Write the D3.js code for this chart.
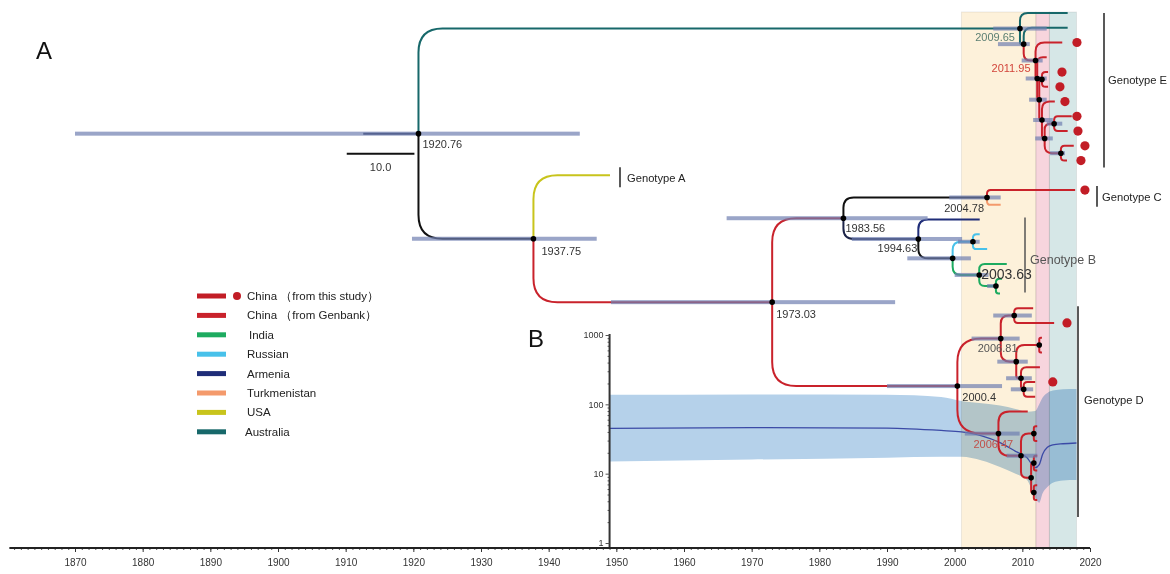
<!DOCTYPE html>
<html>
<head>
<meta charset="utf-8">
<script src="https://cdn.jsdelivr.net/npm/d3@7"></script>
<style>
  body { margin: 0; background: #fff; }
  svg { font-family: "Liberation Sans", Arial, sans-serif; }
</style>
</head>
<body>
<svg id="chart" width="1170" height="574"></svg>
<script>
"use strict";

// ---- data ----
var axisYears = [1870, 1880, 1890, 1900, 1910, 1920, 1930, 1940, 1950, 1960, 1970, 1980, 1990, 2000, 2010, 2020];
var axisFrom = 1860.3, axisTo = 2020;

// shaded periods behind the tree
var periodStart = [2001, 2012, 2014];
var periodEnd = [2012, 2014, 2018];
var periodFill = ['#fdf1da', '#f7d5dd', '#d6e7e7'];

// internal nodes: [id, parent, age, hpd low, hpd high, branch colour]
var internalNodes = [
    ['root', null, 1920.76, 1870.0, 1944.6, 'dark'],
    ['E0', 'root', 2009.65, 2005.7, 2013.6, 'aus'],
    ['E1', 'E0', 2010.2, 2006.4, 2011.1, 'aus'],
    ['E2', 'E1', 2011.95, 2009.9, 2013.0, 'cn'],
    ['E3', 'E2', 2012.2, 2010.5, 2013.6, 'cn'],
    ['E4', 'E3', 2012.5, 2011.0, 2013.6, 'cn'],
    ['E4a', 'E4', 2012.9, null, null, 'cn'],
    ['E5', 'E4', 2012.9, 2011.6, 2014.5, 'cn'],
    ['E7', 'E5', 2013.3, 2011.9, 2014.5, 'cn'],
    ['E6', 'E7', 2014.7, 2013.6, 2015.9, 'cn'],
    ['E8', 'E7', 2015.7, 2014.1, 2016.3, 'cn'],
    ['N37', 'root', 1937.75, 1919.8, 1947.1, 'black'],
    ['N73', 'N37', 1973.03, 1949.2, 1991.2, 'cn'],
    ['N83', 'N73', 1983.56, 1966.3, 1996.0, 'cn'],
    ['C0', 'N83', 2004.78, 1999.2, 2006.8, 'black'],
    ['N94', 'N83', 1994.63, 1984.8, 2001.1, 'dark'],
    ['B1', 'N94', 1999.7, 1993.0, 2002.4, 'black'],
    ['B2', 'B1', 2002.7, 2000.5, 2003.7, 'ru'],
    ['B3', 'B1', 2003.63, 2000.0, 2005.0, 'in'],
    ['B4', 'B3', 2006.1, 2004.8, 2006.4, 'in'],
    ['D0', 'N73', 2000.4, 1990.0, 2007.0, 'cn'],
    ['D81', 'D0', 2006.81, 2002.5, 2009.6, 'cn'],
    ['D1', 'D81', 2008.8, 2005.7, 2011.4, 'cn'],
    ['D2', 'D81', 2009.1, 2006.3, 2010.8, 'cn'],
    ['D3', 'D2', 2012.5, null, null, 'cn'],
    ['D4', 'D2', 2009.8, 2007.6, 2011.4, 'cn'],
    ['D5', 'D4', 2010.2, 2008.3, 2011.6, 'cn'],
    ['D47', 'D0', 2006.47, 2001.5, 2009.6, 'cn'],
    ['D6', 'D47', 2009.8, 2007.7, 2012.2, 'cn'],
    ['D7', 'D6', 2011.7, null, null, 'cn'],
    ['D8', 'D6', 2011.3, null, null, 'cn'],
    ['D9', 'D8', 2011.7, null, null, 'cn'],
    ['D10', 'D8', 2011.7, null, null, 'cn']
];
var rootStart = 1912.6;

// tips, top to bottom: [parent, sampling year, colour, year of "this study" dot]
var tips = [
    ['E0', 2016.7, 'aus', null],
    ['E1', 2016.7, 'aus', null],
    ['E2', 2015.9, 'cn', 2018.07],
    ['E3', 2013.6, 'cn', null],
    ['E4a', 2013.8, 'cn', 2015.86],
    ['E4a', 2013.8, 'cn', 2015.56],
    ['E5', 2014.8, 'cn', 2016.3],
    ['E6', 2017.3, 'cn', 2018.07],
    ['E6', 2016.7, 'cn', 2018.22],
    ['E8', 2017.6, 'cn', 2019.25],
    ['E8', 2016.6, 'cn', 2018.66],
    ['N37', 1949.06, 'usa', null],
    ['C0', 2017.8, 'cn', 2019.25],
    ['C0', 2006.8, 'tk', null],
    ['N94', 2003.7, 'arm', null],
    ['B2', 2003.7, 'ru', null],
    ['B2', 2004.8, 'ru', null],
    ['B3', 2007.7, 'in', null],
    ['B4', 2007.0, 'in', null],
    ['B4', 2006.7, 'in', null],
    ['D1', 2011.6, 'cn', null],
    ['D1', 2014.7, 'cn', 2016.6],
    ['D3', 2012.9, 'cn', null],
    ['D3', 2012.9, 'cn', null],
    ['D4', 2012.6, 'cn', null],
    ['D5', 2011.9, 'cn', 2014.5],
    ['D5', 2011.9, 'cn', null],
    ['D47', 2010.8, 'cn', null],
    ['D7', 2012.2, 'cn', null],
    ['D7', 2012.2, 'cn', null],
    ['D9', 2012.2, 'cn', null],
    ['D9', 2012.2, 'cn', null],
    ['D10', 2012.2, 'cn', null],
    ['D10', 2012.2, 'cn', null]
];

var nodeLabelIds = ['root', 'N37', 'N73', 'N83', 'N94', 'C0', 'B3', 'D0', 'D81', 'D47', 'E0', 'E2'];
var nodeLabelText = ['1920.76', '1937.75', '1973.03', '1983.56', '1994.63', '2004.78', '2003.63', '2000.4', '2006.81', '2006.47', '2009.65', '2011.95'];

var genotypeNames = ['Genotype E', 'Genotype A', 'Genotype C', 'Genotype B', 'Genotype D'];
var genotypeFirstTip = [0, 11, 12, 14, 20];
var genotypeLastTip = [10, 11, 13, 19, 33];

var legendNames = ['China （from this study）', 'China （from Genbank）', 'India', 'Russian', 'Armenia', 'Turkmenistan', 'USA', 'Australia'];
var legendKeys = ['cnStudy', 'cn', 'in', 'ru', 'arm', 'tk', 'usa', 'aus'];

// panel B: effective population size through time
var bYears = [1949, 1970, 1990, 1998, 2001, 2004, 2006.7, 2009, 2010.7, 2011.9, 2012.5, 2013, 2013.7, 2014.5, 2016, 2018];
var bMedian = [45, 46, 45.5, 42, 40, 35, 28, 21, 17, 12.2, 13.5, 19, 24, 26, 27, 27.7];
var bUpper = [137, 139, 138, 128, 112, 104, 96, 86, 78, 80, 100, 125, 146, 158, 165, 167];
var bLower = [15, 16, 17, 17.5, 17.5, 15.5, 12.5, 10, 8.1, 4.5, 3.8, 5.2, 6.4, 7.4, 8, 8.1];
var bTicks = [1, 10, 100, 1000];

// ---- styling ----
var colourOf = {
    cnStudy: '#c21d26', cn: '#c9222b', 'in': '#1dab60', ru: '#48c1ea', arm: '#1f2d78',
    tk: '#f49a6c', usa: '#c8c41c', aus: '#17686a', black: '#111111', dark: '#1c2448'
};

var svg = d3.select('#chart');

var x = d3.scaleLinear().domain([1870, 2020]).range([75, 1090]);
var yTip = d3.scaleLinear().domain([0, tips.length - 1]).range([13, 500]);
var yB = d3.scaleLog().domain([1, 1000]).range([543, 335]);

var bandTop = 12, axisY = 548;

// ---- build tree ----
var nodes = {};
internalNodes.forEach(function (n) {
    nodes[n[0]] = {id: n[0], parent: n[1], year: n[2], lo: n[3], hi: n[4], colour: n[5], children: []};
});
tips.forEach(function (t, i) {
    nodes['t' + i] = {id: 't' + i, parent: t[0], year: t[1], colour: t[2], dot: t[3], row: i, children: []};
});
Object.keys(nodes).forEach(function (k) {
    var n = nodes[k];
    if (n.parent) nodes[n.parent].children.push(n);
});
function setY(n) {
    if (n.row !== undefined) return (n.y = yTip(n.row));
    var ys = n.children.map(setY);
    return (n.y = (d3.min(ys) + d3.max(ys)) / 2);
}
setY(nodes.root);
var all = Object.keys(nodes).map(function (k) { return nodes[k]; });
var inner = all.filter(function (n) { return n.row === undefined; });
var branches = all.filter(function (n) { return n.parent; });

// ---- panel B band, then shaded periods on top ----
var idx = d3.range(bYears.length);
svg.append('path')
    .datum(idx)
    .attr('fill', '#b5d1ea')
    .attr('d', d3.area()
        .x(function (i) { return x(bYears[i]); })
        .y0(function (i) { return yB(bLower[i]); })
        .y1(function (i) { return yB(bUpper[i]); })
        .curve(d3.curveMonotoneX));

svg.append('g').selectAll('rect')
    .data(periodStart)
    .join('rect')
    .attr('x', function (d) { return x(d); })
    .attr('y', bandTop)
    .attr('width', function (d, i) { return x(periodEnd[i]) - x(d); })
    .attr('height', axisY - bandTop)
    .attr('fill', function (d, i) { return periodFill[i]; })
    .attr('stroke', 'rgba(0,0,0,0.08)')
    .style('mix-blend-mode', 'multiply');

svg.append('path')
    .datum(idx)
    .attr('fill', 'none')
    .attr('stroke', '#3b4aa6')
    .attr('stroke-width', 1.3)
    .attr('d', d3.line()
        .x(function (i) { return x(bYears[i]); })
        .y(function (i) { return yB(bMedian[i]); })
        .curve(d3.curveMonotoneX));

// panel B axis
var gB = svg.append('g').attr('transform', 'translate(' + x(1949) + ',0)');
var minor = [];
[1, 10, 100].forEach(function (p) { d3.range(2, 10).forEach(function (m) { minor.push(m * p); }); });
gB.append('g')
    .call(d3.axisLeft(yB).tickValues(minor).tickSize(2).tickSizeOuter(0).tickFormat(''))
    .call(function (g) { g.select('.domain').remove(); });
gB.append('g')
    .call(d3.axisLeft(yB).tickValues(bTicks).tickSize(4).tickSizeOuter(0).tickPadding(2).tickFormat(d3.format('d')))
    .call(function (g) {
        g.select('.domain').attr('stroke-width', 2).attr('stroke', '#333').attr('d', 'M0,' + (yB(1000) - 1) + 'V' + axisY);
        g.selectAll('text').attr('font-size', 9).attr('fill', '#333').attr('font-family', '"Liberation Sans", Arial');
    });
gB.selectAll('line').attr('stroke', '#555');

// ---- bottom time axis ----
var gx = svg.append('g').attr('transform', 'translate(0,' + axisY + ')');
gx.append('g')
    .call(d3.axisBottom(x).tickValues(d3.range(1861, 2020)).tickSize(2).tickFormat(''))
    .call(function (g) { g.select('.domain').remove(); g.selectAll('line').attr('stroke', '#555'); });
gx.append('g')
    .call(d3.axisBottom(x).tickValues(axisYears).tickSize(4).tickPadding(7).tickFormat(d3.format('d')))
    .call(function (g) {
        g.select('.domain').remove();
        g.selectAll('line').attr('stroke', '#333');
        g.selectAll('text').attr('font-size', 10).attr('fill', '#333').attr('font-family', '"Liberation Sans", Arial');
    });
gx.append('line')
    .attr('x1', x(axisFrom)).attr('x2', x(axisTo))
    .attr('stroke', '#222').attr('stroke-width', 2);

// ---- tree branches ----
function elbow(c) {
    var p = nodes[c.parent];
    var px = x(p.year), py = p.y, cx = x(c.year), cy = c.y;
    var dy = cy - py, s = dy < 0 ? -1 : 1;
    if (Math.abs(dy) < 0.5) return 'M' + px + ',' + py + 'H' + cx;
    var r = Math.max(0, Math.min(24, Math.abs(dy) * 0.5, (cx - px) * 0.6));
    return 'M' + px + ',' + py + 'V' + (cy - s * r) +
        'Q' + px + ',' + cy + ' ' + (px + r) + ',' + cy + 'H' + cx;
}

var gTree = svg.append('g').attr('fill', 'none').attr('stroke-width', 2);
gTree.append('line')
    .attr('x1', x(rootStart)).attr('x2', x(nodes.root.year))
    .attr('y1', nodes.root.y).attr('y2', nodes.root.y)
    .attr('stroke', colourOf.dark);
gTree.selectAll('path')
    .data(branches)
    .join('path')
    .attr('d', elbow)
    .attr('stroke', function (d) { return colourOf[d.colour]; });

// HPD bars over branches
svg.append('g').selectAll('rect')
    .data(inner.filter(function (n) { return n.lo !== null; }))
    .join('rect')
    .attr('x', function (d) { return x(d.lo); })
    .attr('y', function (d) { return d.y - 2; })
    .attr('width', function (d) { return x(d.hi) - x(d.lo); })
    .attr('height', 4)
    .attr('fill', '#6f7fb0')
    .attr('opacity', 0.7);

// node dots
svg.append('g').selectAll('circle')
    .data(inner)
    .join('circle')
    .attr('cx', function (d) { return x(d.year); })
    .attr('cy', function (d) { return d.y; })
    .attr('r', 2.8)
    .attr('fill', '#000');

// "this study" markers
svg.append('g').selectAll('circle')
    .data(all.filter(function (n) { return n.dot; }))
    .join('circle')
    .attr('cx', function (d) { return x(d.dot); })
    .attr('cy', function (d) { return d.y; })
    .attr('r', 4.6)
    .attr('fill', colourOf.cnStudy);

// node age labels
var labelPlace = {
    root: [4, 14, 'start', '#333', 11], N37: [8, 16, 'start', '#333', 11],
    N73: [4, 16, 'start', '#333', 11], N83: [2, 14, 'start', '#333', 11],
    N94: [-1, 13, 'end', '#333', 11], C0: [-3, 15, 'end', '#333', 11],
    B3: [2, 4, 'start', '#333', 14], D0: [5, 15, 'start', '#333', 11],
    D81: [-23, 13, 'start', '#555', 11], D47: [-25, 14, 'start', '#c0504a', 11],
    E0: [-5, 12, 'end', '#5b7f72', 11], E2: [-5, 11, 'end', '#d2443a', 11]
};
svg.append('g').selectAll('text')
    .data(nodeLabelIds)
    .join('text')
    .attr('x', function (d) { return x(nodes[d].year) + labelPlace[d][0]; })
    .attr('y', function (d) { return nodes[d].y + labelPlace[d][1]; })
    .attr('text-anchor', function (d) { return labelPlace[d][2]; })
    .attr('fill', function (d) { return labelPlace[d][3]; })
    .attr('font-size', function (d) { return labelPlace[d][4]; })
    .text(function (d, i) { return nodeLabelText[i]; });

// scale bar, 10 years long
var sbY = nodes.root.y + 20;
svg.append('line')
    .attr('x1', x(nodes.root.year - 0.6) - (x(1930) - x(1920))).attr('x2', x(nodes.root.year - 0.6))
    .attr('y1', sbY).attr('y2', sbY)
    .attr('stroke', '#111').attr('stroke-width', 2);
svg.append('text')
    .attr('x', x(nodes.root.year - 5.6)).attr('y', sbY + 17)
    .attr('text-anchor', 'middle').attr('font-size', 11).attr('fill', '#333')
    .text('10.0');

// genotype brackets
var bracketPlace = [
    {bx: 1104, top: 0, bot: 7, lx: 1108, ly: 80, c: '#222'},
    {bx: 620, top: 8, bot: 12, lx: 627, ly: 178, c: '#222'},
    {bx: 1097, top: 4, bot: 2, lx: 1102, ly: 197, c: '#222'},
    {bx: 1025, top: 2, bot: -1, lx: 1030, ly: 260, c: '#555'},
    {bx: 1078, top: 2, bot: 17, lx: 1084, ly: 400, c: '#222'}
];
var gG = svg.append('g');
genotypeNames.forEach(function (name, i) {
    var p = bracketPlace[i];
    gG.append('line')
        .attr('x1', p.bx).attr('x2', p.bx)
        .attr('y1', yTip(genotypeFirstTip[i]) - p.top)
        .attr('y2', yTip(genotypeLastTip[i]) + p.bot)
        .attr('stroke', p.c).attr('stroke-width', 1.5);
    gG.append('text')
        .attr('x', p.lx).attr('y', p.ly).attr('dy', '0.35em')
        .attr('font-size', i === 3 ? 12.5 : 11.2).attr('fill', p.c)
        .text(name);
});

// panel letters
svg.append('text').attr('x', 36).attr('y', 59).attr('font-size', 24).attr('fill', '#111').text('A');
svg.append('text').attr('x', 528).attr('y', 347).attr('font-size', 24).attr('fill', '#111').text('B');

// legend
var lg = svg.append('g').attr('transform', 'translate(197,296)');
var row = lg.selectAll('g')
    .data(legendNames)
    .join('g')
    .attr('transform', function (d, i) { return 'translate(0,' + (i * 19.4) + ')'; });
row.append('rect')
    .attr('x', 0).attr('y', -2.5).attr('width', 29).attr('height', 5)
    .attr('fill', function (d, i) { return colourOf[legendKeys[i]]; });
row.filter(function (d, i) { return i === 0; })
    .append('circle').attr('cx', 40).attr('cy', 0).attr('r', 4).attr('fill', colourOf.cnStudy);
row.append('text')
    .attr('x', function (d, i) { return i === 2 ? 52 : (i === 7 ? 48 : 50); })
    .attr('dy', '0.35em')
    .attr('font-size', 11.5).attr('fill', '#222')
    .text(function (d) { return d; });
</script>
</body>
</html>
